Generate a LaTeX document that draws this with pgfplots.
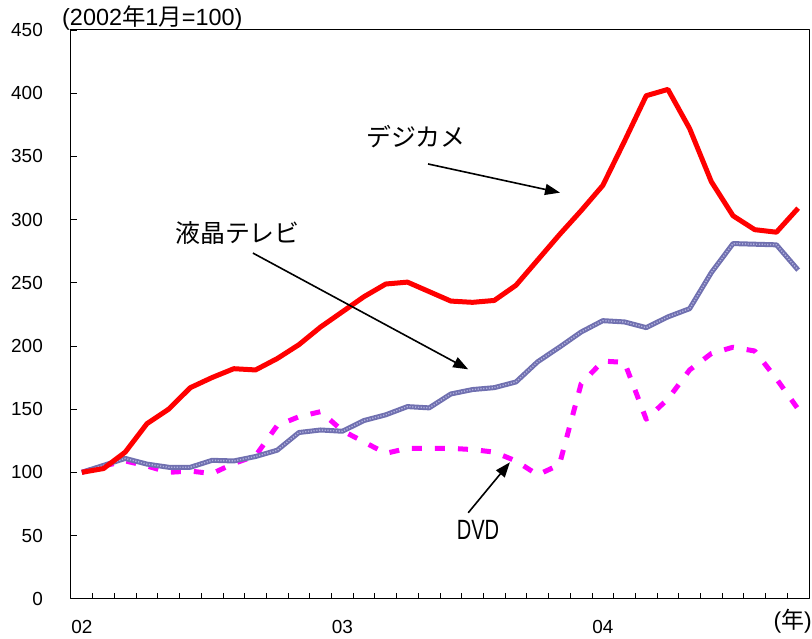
\documentclass[border=0pt]{standalone}
\usepackage{pgfplots}
\pgfplotsset{compat=1.18}
\usepackage{pgfplotstable}
\usepackage{fontspec}
\setmainfont{Liberation Sans}
\newfontfamily\jp{Noto Sans CJK JP}
\usetikzlibrary{arrows.meta}
\definecolor{dcam}{RGB}{255,0,0}
\definecolor{lcd}{RGB}{112,112,176}
\definecolor{lcdin}{RGB}{178,178,222}
\definecolor{dvd}{RGB}{255,0,255}

\pgfplotstableread{
i red lcd dvd
0 100 100 100
1 103 105.5 105
2 116 111 109
3 138.5 106.5 105
4 150 104 100
5 167 104 101
6 175 109.5 99
7 182 109 107
8 181 112.5 113
9 190 117.5 137
10 201 131.5 144
11 215 133.5 148
12 227 132.5 133
13 239 141 124
14 249 145.5 115
15 250.5 152 119
16 243 151 119
17 235.5 162 119
18 234.5 165.5 118
19 236 167 116
20 248 171.5 109
21 268 187.5 98
22 288 199 106
23 307 211 170
24 327 220 188
25 362 219 187
26 398 214.5 142
27 403 223 158
28 372 229.5 181
29 330 258 194
30 303 281 199
31 292 280.5 196
32 290 280 174
33 309 260 150
}\data

\begin{document}
\begin{tikzpicture}
\begin{axis}[
  scale only axis, width=738bp, height=568.7bp,
  xmin=-0.5, xmax=33.5, ymin=0, ymax=450,
  axis line style={line width=1bp},
  xtick={0,12,24}, xticklabels={02,03,04},
  major x tick style={draw=none},
  minor xtick={0.5,1.5,...,32.5},
  minor tick length=6bp,
  ytick={0,50,...,450},
  major tick length=6bp,
  tick align=inside,
  xtick pos=bottom, ytick pos=left,
  tick style={black, line width=0.8bp},
  ticklabel style={font=\fontsize{19}{19}\selectfont},
  /pgf/number format/assume math mode=true,
  yticklabel style={inner sep=0pt, anchor=east, xshift=-28bp},
  xticklabel style={inner sep=0pt, anchor=north, yshift=-21bp},
  clip=false,
  line join=round,
]
\addplot[dvd, line width=5bp, dash pattern=on 10bp off 13bp] table[x=i, y=dvd] {\data};
\addplot[lcd, line width=5bp] table[x=i, y=lcd] {\data};
\addplot[lcdin, line width=1.4bp, dash pattern=on 1.2bp off 1.6bp, forget plot] table[x=i, y=lcd] {\data};
\addplot[dcam, line width=5bp] table[x=i, y=red] {\data};

\node[font=\jp\fontsize{25}{25}\selectfont] at (axis cs:15.39,365.6) {デジカメ};
\draw[line width=1.6bp, -{Triangle[length=15bp,width=11bp]}] (axis cs:15.95,344) -- (axis cs:22.03,321.3);
\node[font=\jp\fontsize{25}{25}\selectfont] at (axis cs:7.17,289.4) {液晶テレビ};
\draw[line width=1.6bp, -{Triangle[length=15bp,width=11bp]}] (axis cs:7.88,273.5) -- (axis cs:17.80,181.5);
\node[font=\fontsize{28}{28}\selectfont] at (axis cs:18.25,54.3) {\scalebox{0.72}[1]{DVD}};
\draw[line width=1.6bp, -{Triangle[length=15bp,width=11bp]}] (axis cs:17.80,68) -- (axis cs:19.72,107.9);

\node[anchor=west, inner sep=0pt, font=\fontsize{23.5}{23.5}\selectfont] at ([xshift=-9bp,yshift=12bp]rel axis cs:0,1) {(2002{\jp 年}1{\jp 月}=100)};
\node[anchor=east, inner sep=0pt, font=\fontsize{23}{23}\selectfont] at ([xshift=3bp,yshift=-23bp]rel axis cs:1,0) {({\jp 年})};

\coordinate (SW) at (rel axis cs:0,0);
\coordinate (NE) at (rel axis cs:1,1);
\end{axis}
\pgfresetboundingbox
\path ([shift={(-71bp,-40.3bp)}]SW) rectangle ([shift={(3bp,30bp)}]NE);
\end{tikzpicture}
\end{document}
